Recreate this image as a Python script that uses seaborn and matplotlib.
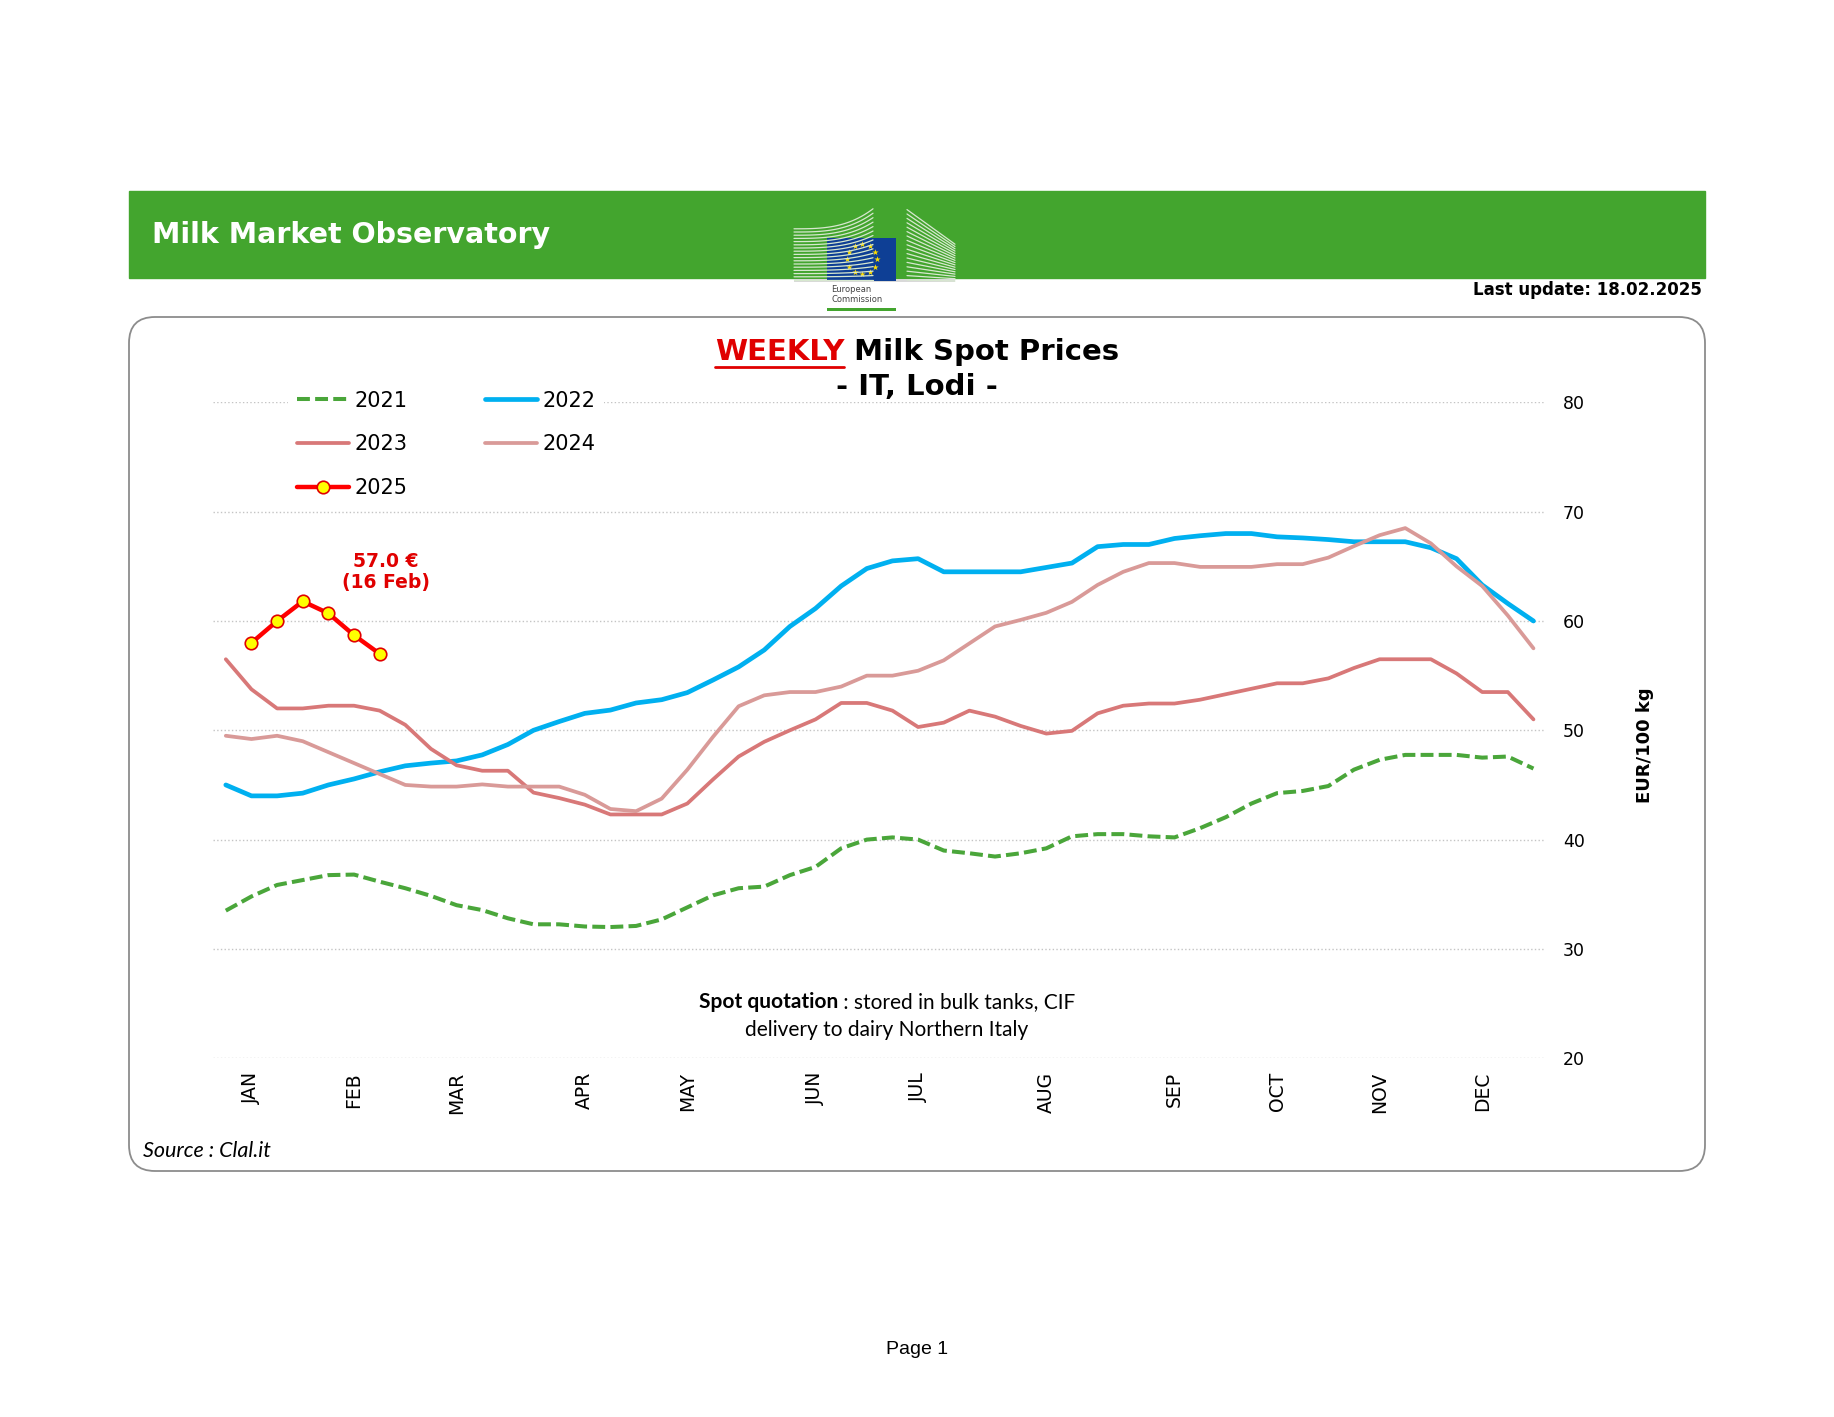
import matplotlib
matplotlib.use("Agg")
import matplotlib.pyplot as plt
import numpy as np
import pandas as pd
import seaborn as sns
from matplotlib.patches import Rectangle, FancyBboxPatch
from matplotlib.lines import Line2D

# ── Datos (EUR/100 kg, semanas 1-52) ─────────────────────────────────────────
semanas = list(range(1, 53))

p2021 = [33.5, 34.8, 35.85, 36.3, 36.75, 36.8, 36.15, 35.55, 34.85, 34.0,
         33.55, 32.8, 32.25, 32.25, 32.05, 32.0, 32.1, 32.7, 33.8, 34.9,
         35.55, 35.7, 36.75, 37.5, 39.2, 40.0, 40.2, 40.0, 39.0, 38.75,
         38.45, 38.75, 39.2, 40.3, 40.5, 40.5, 40.3, 40.2, 41.05, 42.05,
         43.3, 44.25, 44.45, 44.9, 46.4, 47.3, 47.75, 47.75, 47.75, 47.5,
         47.6, 46.5]
p2022 = [45.0, 44.0, 44.0, 44.25, 45.0, 45.55, 46.2, 46.75, 47.0, 47.2,
         47.75, 48.7, 50.0, 50.8, 51.55, 51.85, 52.5, 52.8, 53.45, 54.6,
         55.8, 57.35, 59.5, 61.15, 63.2, 64.8, 65.5, 65.7, 64.5, 64.5,
         64.5, 64.5, 64.9, 65.3, 66.8, 67.0, 67.0, 67.55, 67.8, 68.0,
         68.0, 67.7, 67.6, 67.45, 67.25, 67.25, 67.25, 66.7, 65.7, 63.3,
         61.6, 60.0]
p2023 = [56.5, 53.75, 52.0, 52.0, 52.25, 52.25, 51.8, 50.5, 48.3, 46.8,
         46.3, 46.3, 44.3, 43.8, 43.2, 42.3, 42.3, 42.3, 43.3, 45.5,
         47.6, 48.95, 50.0, 51.0, 52.5, 52.5, 51.8, 50.3, 50.7, 51.8,
         51.25, 50.4, 49.7, 49.95, 51.55, 52.25, 52.45, 52.45, 52.8, 53.3,
         53.8, 54.3, 54.3, 54.75, 55.7, 56.5, 56.5, 56.5, 55.2, 53.5,
         53.5, 51.0]
p2024 = [49.5, 49.2, 49.5, 49.0, 48.0, 47.0, 46.0, 45.0, 44.85, 44.85,
         45.05, 44.85, 44.85, 44.85, 44.1, 42.8, 42.6, 43.75, 46.4, 49.4,
         52.2, 53.2, 53.5, 53.5, 54.0, 55.0, 55.0, 55.45, 56.4, 57.95,
         59.5, 60.1, 60.75, 61.75, 63.3, 64.5, 65.3, 65.3, 64.95, 64.95,
         64.95, 65.2, 65.2, 65.8, 66.85, 67.85, 68.5, 67.1, 65.0, 63.2,
         60.5, 57.5]
semanas_2025 = [2, 3, 4, 5, 6, 7]
p2025 = [58.0, 60.0, 61.8, 60.7, 58.7, 57.0]

meses_semana = [2, 6, 10, 15, 19, 24, 28, 33, 38, 42, 46, 50]
meses = ["JAN", "FEB", "MAR", "APR", "MAY", "JUN", "JUL", "AUG", "SEP", "OCT", "NOV", "DEC"]

# ── Colores ──────────────────────────────────────────────────────────────────
VERDE = "#43A52E"
C2021 = "#4AA63A"
C2022 = "#00B0F0"
C2023 = "#D87878"
C2024 = "#D99A98"

sns.set_theme(style="white")
plt.rcParams["font.family"] = ["DejaVu Sans"]
plt.rcParams["text.color"] = "black"
plt.rcParams["xtick.color"] = "black"
plt.rcParams["ytick.color"] = "black"

W, H = 1834, 1417
fig = plt.figure(figsize=(W / 100, H / 100), dpi=100)


def fx(x):
    return x / W


def fy(y):
    return 1 - y / H


# ── Recuadro redondeado ──────────────────────────────────────────────────────
caja = FancyBboxPatch((129 / 100, (H - 1171) / 100), (1705 - 129) / 100, (1171 - 317) / 100,
                      boxstyle="round,pad=0,rounding_size=0.26",
                      transform=fig.dpi_scale_trans, facecolor="white",
                      edgecolor="#8c8c8c", linewidth=1.3, zorder=-2)
fig.patches.append(caja)

# ── Cabecera ─────────────────────────────────────────────────────────────────
fig.patches.append(Rectangle((fx(129), fy(278)), fx(1705) - fx(129), fy(191) - fy(278),
                             transform=fig.transFigure, color=VERDE, zorder=-2))
fig.text(fx(152), fy(235), "Milk Market Observatory", color="white",
         fontsize=20.5, fontweight="bold", va="center", ha="left")
fig.text(fx(1702), fy(290), "Last update: 18.02.2025", color="black",
         fontsize=12, fontweight="bold", va="center", ha="right")

# logo de la Comisión (simplificado)
axl = fig.add_axes([fx(790), fy(316), fx(968) - fx(790), fy(204) - fy(316)])
axl.set_zorder(3)
axl.set_xlim(790, 968)
axl.set_ylim(316, 204)
axl.axis("off")
xs = np.linspace(794, 873, 60)
for k in range(17):
    base = 280 - k * 3.2
    ys = base - (k / 16) * 20 * ((xs - 794) / 79) ** 3
    axl.plot(xs, ys, color="#d7e8cf", lw=0.9)
for k in range(17):
    yl = 280 - k * 4.4
    yr = 281 - k * 2.3
    axl.plot([907, 955], [yl, yr], color="#d7e8cf", lw=0.9)
axl.add_patch(Rectangle((794, 279), 161, 3, color="#d9d9d9", lw=0))
axl.add_patch(Rectangle((827, 238), 69, 43, color="#0E3F95", lw=0))
ang = np.linspace(0, 2 * np.pi, 13)[:-1]
axl.scatter(862 + 15 * np.cos(ang), 259 + 15 * np.sin(ang), marker="*", s=22,
            color="#FFDD00", linewidths=0)
axl.text(831, 290, "European", fontsize=6, color="#444444", va="center")
axl.text(831, 300, "Commission", fontsize=6, color="#444444", va="center")
axl.add_patch(Rectangle((827, 308), 69, 3, color=VERDE, lw=0))

# ── Gráfico ──────────────────────────────────────────────────────────────────
ax = fig.add_axes([fx(213), fy(1058.2), fx(1545) - fx(213), fy(402.4) - fy(1058.2)])
ax.set_zorder(2)
ax.set_facecolor("none")

sns.lineplot(x=semanas, y=p2021, ax=ax, color=C2021, lw=2.9,
             linestyle=(0, (3.2, 1.3)), label="2021")
sns.lineplot(x=semanas, y=p2022, ax=ax, color=C2022, lw=3.4, label="2022")
sns.lineplot(x=semanas, y=p2023, ax=ax, color=C2023, lw=2.7, label="2023")
sns.lineplot(x=semanas, y=p2024, ax=ax, color=C2024, lw=2.7, label="2024")
sns.lineplot(x=semanas_2025, y=p2025, ax=ax, color="#FF0000", lw=3.2, label="2025",
             marker="o", markersize=9, markerfacecolor="#FFFF00",
             markeredgecolor="#E00000", markeredgewidth=1.2)

ax.set_xlim(0.5, 52.45)
ax.set_ylim(20, 80)
ax.set_yticks(range(20, 81, 10))
ax.yaxis.tick_right()
ax.tick_params(axis="y", length=0, pad=13, labelsize=12.5)
ax.set_xticks(meses_semana)
ax.set_xticklabels(meses, rotation=90)
ax.tick_params(axis="x", length=0, pad=10, labelsize=13.5)
ax.grid(axis="y", linestyle=":", color="#c4c4c4", linewidth=1)
ax.grid(axis="x", visible=False)
for s in ax.spines.values():
    s.set_visible(False)
ax.set_xlabel("")
ax.set_ylabel("")

fig.text(fx(1645), fy(745), "EUR/100 kg", rotation=90, fontsize=13,
         fontweight="bold", ha="center", va="center")

handles, labels = ax.get_legend_handles_labels()
orden = [0, 2, 4, 1, 3]
ax.legend([handles[i] for i in orden], [labels[i] for i in orden],
          loc="upper left", bbox_to_anchor=(fx(278), fy(372)),
          bbox_transform=fig.transFigure, ncol=2, fontsize=15,
          frameon=True, facecolor="white", edgecolor="none", framealpha=1,
          fancybox=False, handlelength=2.5, handletextpad=0.29,
          columnspacing=3.68, labelspacing=1.13, borderpad=0.4)

fig.text(fx(386), fy(572), "57.0 €\n(16 Feb)", color="#E00000", fontsize=13.5,
         fontweight="bold", ha="center", va="center", multialignment="center",
         linespacing=1.15)

# ── Textos compuestos (negrita + normal) ─────────────────────────────────────
fig.canvas.draw()
rend = fig.canvas.get_renderer()


def texto_mixto(y, partes, cx, size):
    objs = []
    for s, kw in partes:
        objs.append(fig.text(0, fy(y), s, fontsize=size, va="center", ha="left", **kw))
    anchos = [t.get_window_extent(rend).width for t in objs]
    x = cx - sum(anchos) / 2
    for t, w in zip(objs, anchos):
        t.set_x(fx(x))
        x += w
    return objs


tit = texto_mixto(352, [("WEEKLY", dict(color="#E00000", fontweight="bold")),
                        (" Milk Spot Prices", dict(color="black", fontweight="bold"))],
                  917, 21)
bb = tit[0].get_window_extent(rend)
fig.lines.append(Line2D([bb.x0 / W, bb.x1 / W], [(bb.y0 - 1) / H, (bb.y0 - 1) / H],
                        transform=fig.transFigure, color="#E00000", lw=2))
fig.text(fx(917), fy(387), "- IT, Lodi -", fontsize=21, fontweight="bold",
         ha="center", va="center")

texto_mixto(1002, [("Spot quotation", dict(fontweight="bold", family=["Lato", "DejaVu Sans"])),
                   (" : stored in bulk tanks, CIF", dict(family=["Lato", "DejaVu Sans"]))],
            887, 15)
fig.text(fx(887), fy(1030), "delivery to dairy Northern Italy", fontsize=15,
         family=["Lato", "DejaVu Sans"], ha="center", va="center")

fig.text(fx(143), fy(1151), "Source : Clal.it", fontsize=15.5, style="italic",
         family=["Lato", "DejaVu Sans"], ha="left", va="center")
fig.text(fx(917), fy(1350), "Page 1", fontsize=14, family=["Liberation Sans", "DejaVu Sans"],
         ha="center", va="center")

fig.savefig("out.png", dpi=100)
